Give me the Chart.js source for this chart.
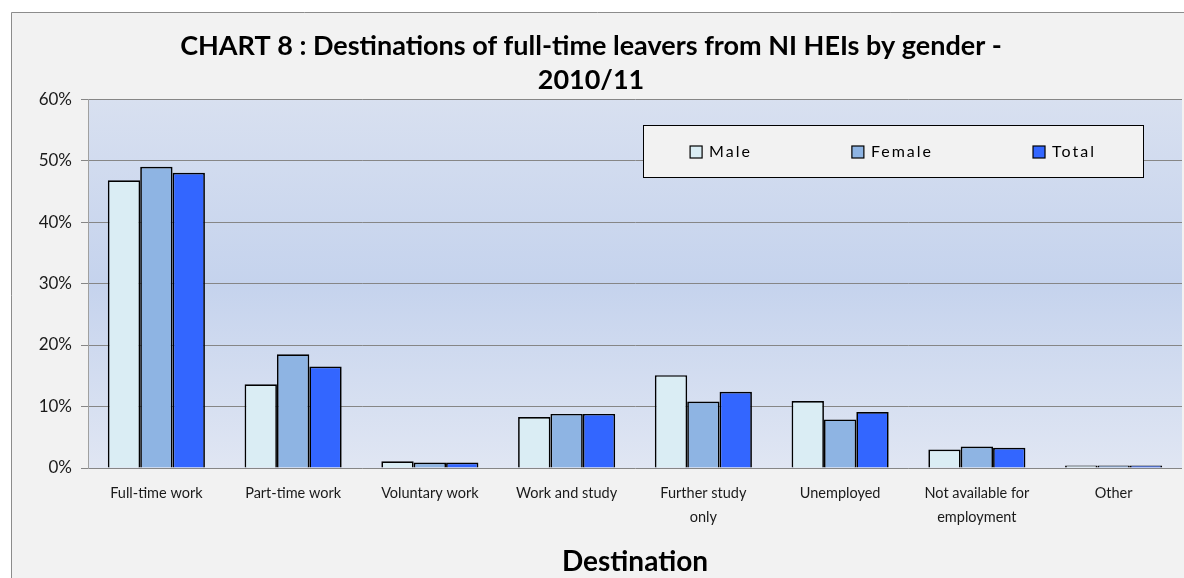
<!DOCTYPE html>
<html>
<head>
<meta charset="utf-8">
<script src="https://cdn.jsdelivr.net/npm/chart.js@4"></script>
<style>
  html, body { margin: 0; padding: 0; background: #fff; }
  #wrap { width: 1184px; height: 578px; }
</style>
</head>
<body>
<div id="wrap"><canvas id="grafica" width="1184" height="578"></canvas></div>
<script>
// datos (porcentajes)
const categorias = [
  "Full-time work", "Part-time work", "Voluntary work", "Work and study",
  ["Further study", "only"], "Unemployed", ["Not available for", "employment"], "Other"
];
const male = [46.8, 13.6, 1.1, 8.3, 15.1, 10.9, 3.0, 0.4];
const female = [49.0, 18.5, 0.9, 8.8, 10.8, 7.9, 3.5, 0.4];
const total = [48.0, 16.5, 0.9, 8.8, 12.4, 9.1, 3.3, 0.4];
const etiquetasY = ["0%", "10%", "20%", "30%", "40%", "50%", "60%"];
const titulo = ["CHART 8 : Destinations of full-time leavers from NI HEIs by gender -", "2010/11"];

const fuente = "Lato, 'Noto Sans', sans-serif";

// fondo gris del marco y degradado del area de trazado
const fondo = {
  id: "fondo",
  beforeDraw(chart) {
    const ctx = chart.ctx;
    const a = chart.chartArea;
    ctx.save();
    ctx.fillStyle = "#ffffff";
    ctx.fillRect(0, 0, chart.width, chart.height);
    ctx.fillStyle = "#f2f2f2";
    ctx.fillRect(11, 12, chart.width - 11, chart.height - 12);
    ctx.strokeStyle = "#8c8c8c";
    ctx.lineWidth = 1;
    ctx.beginPath();
    ctx.moveTo(11.5, chart.height);
    ctx.lineTo(11.5, 12.5);
    ctx.lineTo(chart.width, 12.5);
    ctx.stroke();
    const g = ctx.createLinearGradient(0, a.top, 0, a.bottom);
    g.addColorStop(0, "#d8e0f0");
    g.addColorStop(0.5, "#c5d3ed");
    g.addColorStop(1, "#e0e6f3");
    ctx.fillStyle = g;
    ctx.fillRect(a.left, a.top, a.right - a.left, a.bottom - a.top);
    ctx.restore();
  }
};

// leyenda dentro del area, con recuadro
const leyenda = {
  id: "leyenda",
  afterDraw(chart) {
    const ctx = chart.ctx;
    const box = { x: 643, y: 125, w: 500, h: 52 };
    ctx.save();
    ctx.fillStyle = "#f2f2f2";
    ctx.fillRect(box.x, box.y, box.w, box.h);
    ctx.strokeStyle = "#000";
    ctx.lineWidth = 1;
    ctx.strokeRect(box.x + 0.5, box.y + 0.5, box.w, box.h);
    ctx.font = "16px " + fuente;
    ctx.letterSpacing = "2px";
    ctx.textBaseline = "middle";
    const sets = chart.data.datasets;
    const anchos = sets.map(d => 12 + 7 + ctx.measureText(d.label).width);
    const hueco = 100;
    const totalAncho = anchos.reduce((s, w) => s + w, 0) + hueco * (sets.length - 1);
    let x = box.x + (box.w - totalAncho) / 2;
    const cy = box.y + box.h / 2 + 1;
    sets.forEach((d, i) => {
      ctx.fillStyle = d.backgroundColor;
      ctx.fillRect(x, cy - 6, 12, 12);
      ctx.strokeStyle = "#000";
      ctx.lineWidth = 1.2;
      ctx.strokeRect(x, cy - 6, 12, 12);
      ctx.fillStyle = "#000";
      ctx.fillText(d.label, x + 19, cy);
      x += anchos[i] + hueco;
    });
    ctx.restore();
  }
};

const grafica = new Chart(document.getElementById("grafica"), {
  type: "bar",
  data: {
    labels: categorias,
    datasets: [
      { label: "Male", data: male, backgroundColor: "#daedf4" },
      { label: "Female", data: female, backgroundColor: "#8eb4e3" },
      { label: "Total", data: total, backgroundColor: "#3366ff" }
    ]
  },
  options: {
    responsive: false,
    animation: false,
    layout: { padding: { left: 0, right: 2, top: 0, bottom: 0 } },
    datasets: {
      bar: {
        borderColor: "#000",
        borderWidth: 1.7,
        categoryPercentage: 0.71,
        barPercentage: 1
      }
    },
    plugins: {
      legend: { display: false },
      tooltip: { enabled: false },
      title: {
        display: true,
        text: titulo,
        color: "#000",
        font: { family: fuente, size: 27, weight: "bold", lineHeight: 1.26 },
        padding: { top: 29, bottom: 2 }
      }
    },
    scales: {
      x: {
        grid: { display: false, drawTicks: false },
        border: { display: false },
        ticks: {
          autoSkip: false,
          maxRotation: 0,
          padding: 14,
          color: "#1a1a1a",
          font: { family: fuente, size: 14.5, lineHeight: 1.62 }
        },
        title: {
          display: true,
          text: "Destination",
          color: "#000",
          font: { family: fuente, size: 28, weight: "bold", lineHeight: 1 },
          padding: { top: 0, bottom: 2 }
        },
        afterFit(scale) { scale.height = 110; }
      },
      y: {
        min: 0,
        max: 60,
        ticks: {
          stepSize: 10,
          padding: 9,
          color: "#1a1a1a",
          font: { family: fuente, size: 17 },
          callback: (v, i) => etiquetasY[i]
        },
        grid: { color: "#868686", lineWidth: 1, tickLength: 7 },
        border: { color: "#a0a0a0" },
        afterFit(scale) { scale.width = 88; }
      }
    }
  },
  plugins: [fondo, leyenda]
});
</script>
</body>
</html>
